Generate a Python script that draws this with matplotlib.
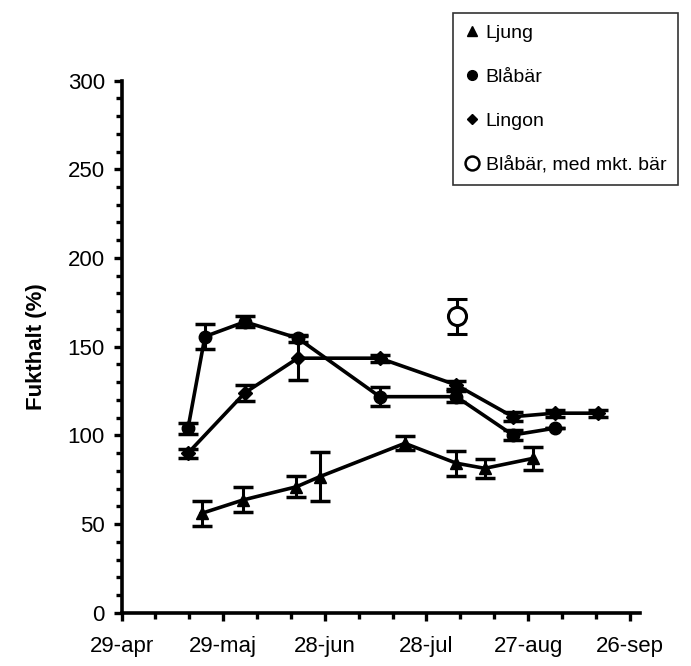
import matplotlib
matplotlib.use("Agg")
import matplotlib.pyplot as plt
from matplotlib.ticker import MultipleLocator
from matplotlib.lines import Line2D

plt.rcParams['font.family'] = ['Liberation Sans', 'DejaVu Sans']

# dagar efter 29-apr
ljung_dag = [23.6, 35.9, 51.6, 58.5, 83.6, 98.8, 107.2, 121.4]
ljung_val = [56, 63.6, 71, 76.7, 95.5, 84.3, 81.4, 87]
ljung_err = [7, 7, 6, 13.7, 4, 7, 5.4, 6.4]

blabar_dag = [19.6, 24.6, 36.4, 52, 76.2, 98.8, 115.5, 127.8]
blabar_val = [104, 155.7, 164, 154.8, 121.8, 121.8, 100.2, 104]
blabar_err = [3, 7, 3, 2, 5.5, 3, 3, 0]

lingon_dag = [19.6, 36.4, 52, 76.2, 98.8, 115.5, 127.8, 140.6]
lingon_val = [90, 124, 143.5, 143.5, 128.4, 110.5, 112.5, 112.5]
lingon_err = [2.5, 4.5, 12.5, 2, 2, 2.5, 2, 2]

bar_dag = [99]
bar_val = [167]
bar_err = [9.6]

tick_dagar = [0, 30, 60, 90, 120, 150]
tick_namn = ["29-apr", "29-maj", "28-jun", "28-jul", "27-aug", "26-sep"]

fig = plt.figure(figsize=(6.91, 6.66), dpi=100)
ax = fig.add_axes([0.176, 0.08, 0.75, 0.799])

stil = dict(color="black", lw=2.6, capsize=7, capthick=2.5, elinewidth=2.2, ms=9)
ax.errorbar(ljung_dag, ljung_val, yerr=ljung_err, marker="^", **stil)
ax.errorbar(blabar_dag, blabar_val, yerr=blabar_err, marker="o", **stil)
ax.errorbar(lingon_dag, lingon_val, yerr=lingon_err, marker="D", **{**stil, "ms": 7})
ax.errorbar(bar_dag, bar_val, yerr=bar_err, marker="o", mfc="white", mew=2.2,
            ls="none", **{**stil, "ms": 13})

ax.set_xlim(0, 153)
ax.set_ylim(0, 300)
ax.set_xticks(tick_dagar)
ax.set_xticklabels(tick_namn)
ax.xaxis.set_minor_locator(MultipleLocator(10))
ax.yaxis.set_major_locator(MultipleLocator(50))
ax.yaxis.set_minor_locator(MultipleLocator(10))

for s in ["top", "right"]:
    ax.spines[s].set_visible(False)
for s in ["left", "bottom"]:
    ax.spines[s].set_linewidth(2.6)

ax.tick_params(axis="both", which="major", length=6, width=2.4, labelsize=16)
ax.tick_params(axis="both", which="minor", length=4, width=2.4)
ax.tick_params(axis="x", which="major", pad=11)
ax.tick_params(axis="y", which="major", pad=6)
ax.set_ylabel("Fukthalt (%)", fontsize=16, fontweight="bold", labelpad=15)

handtag = [
    Line2D([], [], ls="none", marker="^", color="black", ms=7),
    Line2D([], [], ls="none", marker="o", color="black", ms=7),
    Line2D([], [], ls="none", marker="D", color="black", ms=5),
    Line2D([], [], ls="none", marker="o", mfc="white", mec="black", mew=1.8, ms=10),
]
namn = ["Ljung", "Blåbär", "Lingon", "Blåbär, med mkt. bär"]
leg = fig.legend(handtag, namn, loc="upper left", bbox_to_anchor=(0.655, 0.981),
                 fontsize=14, frameon=True, fancybox=False, edgecolor="black",
                 labelspacing=1.35, handlelength=0.8, handletextpad=0.3,
                 borderpad=0.6, borderaxespad=0)
leg.get_frame().set_linewidth(1.2)

fig.savefig("out.png", dpi=100)
